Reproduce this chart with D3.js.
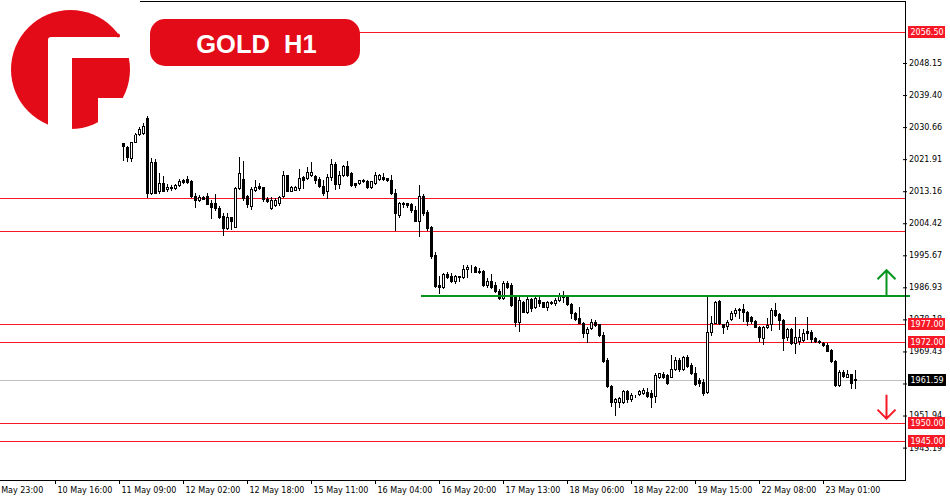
<!DOCTYPE html>
<html><head><meta charset="utf-8">
<script src="https://cdn.jsdelivr.net/npm/d3@7"></script>
<style>body{margin:0;background:#fff}svg{display:block}</style>
</head><body>
<svg id="c" width="950" height="500"></svg>
<script>
// ---- data (H1 candles, 11 May 10:00 onward) ----
const open  = [2026.2,2025.3,2022.2,2026.7,2028.8,2029.1,2033.1,2012.6,2021.1,2013.3,2015.3,2013.7,2014.2,2014.0,2014.8,2016.2,2016.5,2015.9,2011.9,2010.8,2011.6,2011.9,2010.0,2010.0,2008.5,2006.4,2003.1,2006.1,2003.5,2014.0,2016.5,2011.9,2009.1,2013.5,2014.6,2014.2,2011.0,2008.5,2009.3,2009.9,2011.9,2017.6,2013.3,2013.5,2014.0,2017.0,2016.7,2017.6,2017.3,2016.5,2014.6,2013.1,2017.0,2020.6,2015.1,2017.6,2020.1,2018.2,2015.3,2015.3,2016.2,2015.9,2014.2,2015.5,2016.6,2017.0,2016.8,2016.1,2012.8,2006.7,2010.0,2009.9,2009.6,2007.9,2005.1,2011.9,2007.6,2003.3,1995.8,1987.6,1986.9,1990.6,1990.0,1988.7,1989.7,1989.7,1991.8,1992.4,1992.6,1991.5,1991.5,1987.6,1988.7,1987.6,1986.0,1983.9,1988.2,1987.6,1984.6,1977.6,1983.0,1980.3,1983.7,1981.5,1983.5,1982.9,1981.5,1983.0,1982.7,1983.5,1984.4,1984.2,1982.4,1980.0,1978.5,1977.1,1974.4,1975.8,1977.6,1976.9,1973.9,1967.1,1960.0,1955.5,1955.7,1955.7,1958.7,1956.4,1957.4,1957.8,1958.2,1958.4,1958.0,1957.3,1962.5,1963.3,1963.0,1962.5,1964.6,1967.1,1964.6,1967.8,1965.7,1963.6,1961.6,1961.2,1958.4,1974.8,1977.3,1983.3,1976.9,1976.4,1978.2,1979.8,1980.9,1980.9,1980.3,1978.9,1977.8,1976.2,1973.0,1976.0,1976.9,1980.7,1979.7,1978.0,1973.3,1975.5,1971.7,1972.4,1972.6,1975.1,1974.8,1973.0,1972.4,1971.8,1971.2,1969.8,1966.9,1960.3,1963.9,1962.5,1963.3,1961.9];
const high  = [2026.3,2025.5,2026.6,2029.0,2030.6,2031.8,2033.7,2022.2,2021.9,2018.1,2017.3,2015.1,2014.8,2015.0,2016.5,2016.6,2017.3,2016.1,2012.6,2012.1,2011.9,2012.6,2010.8,2012.3,2009.1,2007.2,2007.3,2006.2,2014.4,2022.4,2021.5,2012.1,2014.2,2016.2,2015.5,2014.4,2011.7,2011.7,2011.2,2011.9,2018.8,2017.7,2014.6,2014.6,2019.2,2017.2,2019.9,2021.0,2017.6,2017.0,2016.2,2017.9,2021.9,2021.2,2018.8,2020.3,2021.5,2018.3,2015.5,2016.2,2016.5,2016.2,2016.0,2018.3,2017.9,2018.1,2016.9,2017.5,2013.7,2010.3,2010.3,2010.0,2009.9,2009.1,2014.9,2012.4,2008.0,2003.7,1996.7,1990.0,1990.9,1991.2,1990.9,1990.3,1990.0,1993.0,1993.0,1993.0,1992.8,1992.1,1991.7,1989.4,1990.6,1988.5,1986.4,1988.7,1988.7,1988.0,1984.8,1984.4,1983.3,1984.2,1983.9,1984.4,1984.2,1983.0,1983.3,1983.2,1983.9,1985.5,1986.0,1984.6,1982.6,1980.2,1981.5,1977.6,1976.2,1978.2,1978.0,1977.0,1974.8,1967.6,1960.3,1956.6,1957.1,1958.9,1958.9,1958.0,1957.5,1958.9,1959.4,1959.4,1958.9,1963.5,1963.6,1963.9,1963.3,1968.5,1967.8,1967.6,1968.2,1968.5,1966.2,1965.1,1962.1,1961.8,1984.8,1979.1,1983.3,1983.5,1977.0,1977.9,1980.6,1981.2,1981.2,1982.4,1980.6,1979.1,1978.0,1976.4,1976.4,1978.5,1981.2,1982.6,1979.8,1978.2,1975.8,1975.8,1978.8,1975.5,1975.5,1978.8,1975.3,1973.3,1972.6,1972.1,1971.8,1970.0,1967.1,1964.4,1964.4,1964.4,1963.3,1964.5];
const low   = [2021.7,2021.5,2021.5,2026.5,2028.6,2028.8,2011.5,2012.4,2012.6,2012.8,2013.2,2013.3,2013.5,2013.9,2014.6,2015.3,2015.3,2011.5,2008.8,2010.6,2011.0,2009.6,2005.8,2008.0,2005.8,2001.2,2002.8,2002.8,2003.3,2013.7,2010.8,2008.9,2008.2,2013.3,2013.7,2010.6,2010.3,2008.2,2009.1,2009.3,2011.7,2013.2,2013.2,2013.4,2013.5,2014.0,2016.5,2017.3,2015.5,2014.2,2012.1,2011.2,2016.2,2013.7,2014.0,2017.3,2017.3,2014.6,2014.4,2015.1,2015.8,2014.1,2014.1,2015.1,2016.2,2016.2,2016.0,2012.4,2002.6,2006.1,2008.9,2008.9,2007.6,2004.9,2000.9,2006.7,2002.6,1994.9,1987.1,1985.3,1986.7,1989.5,1988.4,1988.0,1988.7,1989.5,1989.8,1991.2,1991.1,1990.9,1987.4,1986.9,1986.7,1985.7,1983.8,1983.7,1986.7,1981.8,1976.4,1975.1,1980.1,1979.8,1980.6,1981.2,1981.8,1981.5,1980.7,1982.3,1982.1,1983.3,1983.0,1982.1,1978.5,1978.0,1977.1,1973.5,1972.1,1975.5,1976.4,1973.7,1966.6,1959.8,1954.6,1952.1,1954.3,1955.3,1955.5,1956.0,1957.1,1957.6,1957.8,1956.9,1954.2,1955.7,1962.1,1962.1,1960.5,1962.4,1964.4,1964.2,1964.4,1965.1,1963.3,1960.3,1960.0,1957.5,1958.0,1973.9,1977.1,1976.9,1974.4,1975.5,1978.0,1979.1,1978.6,1977.8,1976.6,1977.1,1976.0,1972.4,1971.5,1975.7,1975.3,1979.1,1975.5,1969.8,1972.6,1971.5,1968.9,1971.5,1972.4,1972.7,1972.1,1972.1,1971.8,1970.9,1969.5,1966.6,1960.0,1960.0,1962.5,1962.4,1959.4,1959.4];
const close = [2025.5,2022.4,2026.5,2028.8,2030.1,2031.0,2012.8,2021.1,2012.8,2015.5,2013.3,2014.4,2014.0,2014.8,2015.9,2015.7,2015.7,2011.9,2010.8,2011.5,2011.1,2009.8,2008.9,2008.5,2006.2,2003.1,2006.1,2004.9,2014.0,2018.1,2011.2,2009.6,2013.7,2014.2,2014.0,2011.0,2010.6,2010.8,2010.8,2011.7,2017.6,2013.3,2014.2,2014.2,2016.7,2016.2,2018.5,2018.5,2016.1,2014.6,2012.6,2017.0,2020.6,2015.1,2017.6,2020.1,2017.6,2014.9,2014.8,2016.1,2015.9,2014.2,2015.9,2017.6,2017.5,2016.5,2016.1,2012.8,2007.2,2010.0,2009.7,2009.3,2007.9,2005.1,2011.9,2007.3,2003.1,1995.5,1987.3,1986.9,1990.6,1989.7,1988.7,1990.0,1990.0,1991.9,1992.6,1992.6,1991.2,1991.2,1987.6,1988.7,1986.9,1986.0,1983.9,1988.0,1987.1,1982.1,1977.6,1983.5,1980.3,1983.7,1981.2,1983.9,1982.7,1981.6,1983.0,1982.6,1983.5,1984.8,1984.9,1982.4,1979.8,1978.2,1977.3,1974.4,1975.5,1977.6,1976.6,1973.9,1966.9,1960.0,1955.5,1956.4,1956.6,1958.7,1956.4,1957.6,1957.2,1958.7,1958.9,1957.3,1956.9,1963.0,1963.5,1962.5,1960.9,1964.6,1967.1,1964.6,1967.8,1965.5,1963.6,1960.5,1960.9,1958.2,1974.8,1977.3,1983.0,1977.1,1976.0,1977.6,1980.0,1980.7,1980.7,1980.3,1977.8,1977.8,1976.2,1973.3,1976.0,1976.6,1980.7,1979.4,1978.0,1973.0,1975.5,1971.7,1973.3,1973.5,1974.5,1974.4,1972.7,1972.4,1972.1,1971.2,1969.6,1966.9,1960.3,1963.9,1962.7,1963.3,1960.7,1961.59];

const timeTickBars   = [-33,-17,-1,15,31,47,63,79,95,111,127,143,159,175];
const timeTickLabels = ["9 May 23:00","10 May 16:00","11 May 09:00","12 May 02:00","12 May 18:00","15 May 11:00","16 May 04:00","16 May 20:00","17 May 13:00","18 May 06:00","18 May 22:00","19 May 15:00","22 May 08:00","23 May 01:00"];
const priceTicks   = [2048.15,2039.40,2030.66,2021.91,2013.16,2004.42,1995.67,1986.93,1978.18,1969.43,1960.69,1951.94,1943.19];
const labeledLevels = [2056.50,1977.00,1972.00,1950.00,1945.00];
const plainLevels   = [2011.3,2002.3];
const currentPrice  = 1961.59;
const resistance    = 1984.5;
const title = "GOLD  H1";

// ---- drawing ----
const RED = "#f71826", LOGO = "#e30b18", GREEN = "#07951f";
const svg = d3.select("#c");
const n = open.length;
const x = d3.scaleLinear().domain([0, n - 1]).range([123, 855]);
const y = d3.scaleLinear().domain([1943.19, 2048.15]).range([447.6, 63]);
const py = v => Math.round(y(v)) + 0.5;
const axisX = 905, axisY = 480;

svg.append("rect").attr("width", 950).attr("height", 500).attr("fill", "#fff");

// horizontal levels
svg.selectAll(".pl").data(plainLevels).join("line")
  .attr("x1", 0).attr("x2", axisX).attr("y1", py).attr("y2", py)
  .attr("stroke", RED).attr("stroke-width", 1);
svg.selectAll(".ll").data(labeledLevels).join("line")
  .attr("x1", (d, i) => i === 0 ? 355 : 0).attr("x2", axisX).attr("y1", py).attr("y2", py)
  .attr("stroke", RED).attr("stroke-width", 1);
svg.append("line").attr("x1", 0).attr("x2", axisX)
  .attr("y1", py(currentPrice)).attr("y2", py(currentPrice))
  .attr("stroke", "#c0c0c0").attr("stroke-width", 1);

// candles
const idx = d3.range(n);
const g = svg.append("g").attr("shape-rendering", "crispEdges");
g.selectAll(".w").data(idx).join("line")
  .attr("x1", i => Math.round(x(i)) + 0.5).attr("x2", i => Math.round(x(i)) + 0.5)
  .attr("y1", i => Math.round(y(high[i]))).attr("y2", i => Math.round(y(low[i])) + 1)
  .attr("stroke", "#000").attr("stroke-width", 1);
g.selectAll(".b").data(idx).join("rect")
  .attr("x", i => Math.round(x(i)) - 0.5)
  .attr("y", i => Math.round(y(Math.max(open[i], close[i]))) + 0.5)
  .attr("width", 2)
  .attr("height", i => Math.max(0, Math.round(y(Math.min(open[i], close[i]))) - Math.round(y(Math.max(open[i], close[i])))))
  .attr("fill", i => close[i] >= open[i] ? "#fff" : "#000")
  .attr("stroke", "#000").attr("stroke-width", 1);

// resistance line + arrows
svg.append("line").attr("x1", 421).attr("x2", 910)
  .attr("y1", Math.round(y(resistance))).attr("y2", Math.round(y(resistance)))
  .attr("stroke", GREEN).attr("stroke-width", 2);
const ay = y(resistance);
svg.append("path")
  .attr("d", `M886.5,${ay - 1}V${ay - 26}M877.5,${ay - 17}L886.5,${ay - 26}L895.5,${ay - 17}`)
  .attr("fill", "none").attr("stroke", GREEN).attr("stroke-width", 2);
const by = y(1950);
svg.append("path")
  .attr("d", `M886.5,${by - 28}V${by - 4}M877.5,${by - 13}L886.5,${by - 4}L895.5,${by - 13}`)
  .attr("fill", "none").attr("stroke", RED).attr("stroke-width", 2);

// frame
svg.append("line").attr("x1", 140).attr("x2", axisX + 0.5).attr("y1", 1.5).attr("y2", 1.5).attr("stroke", "#000");
svg.append("line").attr("x1", axisX + 0.5).attr("x2", axisX + 0.5).attr("y1", 1).attr("y2", axisY + 1).attr("stroke", "#000");
svg.append("line").attr("x1", 0).attr("x2", axisX + 1).attr("y1", axisY + 0.5).attr("y2", axisY + 0.5).attr("stroke", "#000");

// bottom axis
const xa = svg.append("g").attr("transform", `translate(0,${axisY})`)
  .call(d3.axisBottom(x).tickValues(timeTickBars).tickSize(4).tickFormat((d, i) => timeTickLabels[i]));
xa.select(".domain").remove();
xa.selectAll("text").attr("text-anchor", "start").attr("x", 2).attr("y", 7)
  .attr("font-family", "DejaVu Sans").attr("font-size", 8).attr("fill", "#000");

// right axis
const ya = svg.append("g").attr("transform", `translate(${axisX - 2},0)`)
  .call(d3.axisRight(y).tickValues(priceTicks).tickSize(4)
    .tickFormat(d => Math.abs(y(d) - y(currentPrice)) < 7 ? "" : d3.format(".2f")(d)));
ya.select(".domain").remove();
ya.selectAll("text").attr("x", 6).attr("dy", "0.3em")
  .attr("font-family", "DejaVu Sans").attr("font-size", 8).attr("fill", "#000");

// price labels
const lab = svg.selectAll(".lab").data(labeledLevels).join("g")
  .attr("transform", d => `translate(908,${Math.round(y(d))})`);
lab.append("rect").attr("x", 0).attr("y", -6).attr("width", 37).attr("height", 12).attr("fill", RED);
lab.append("text").attr("x", 2.5).attr("y", 0).attr("dy", "0.33em")
  .attr("font-family", "DejaVu Sans").attr("font-size", 8).attr("fill", "#fff")
  .text(d => d3.format(".2f")(d));
const cur = svg.append("g").attr("transform", `translate(908,${Math.round(y(currentPrice))})`);
cur.append("rect").attr("x", 0).attr("y", -6).attr("width", 38).attr("height", 12).attr("fill", "#000");
cur.append("text").attr("x", 2.5).attr("dy", "0.33em")
  .attr("font-family", "DejaVu Sans").attr("font-size", 8).attr("fill", "#fff")
  .text(d3.format(".2f")(currentPrice));

// title pill
svg.append("rect").attr("x", 150).attr("y", 19).attr("width", 210).attr("height", 47)
  .attr("rx", 15).attr("fill", LOGO);
svg.append("text").attr("x", 256.5).attr("y", 53.3).attr("text-anchor", "middle")
  .attr("font-family", "Liberation Sans, Arial, sans-serif").attr("font-weight", "bold")
  .attr("font-size", 25.5).attr("fill", "#fff")
  .style("white-space", "pre").text(title);

// logo: red disc with a white "F" cut into it
const lg = svg.append("g");
lg.append("circle").attr("cx", 70.5).attr("cy", 69.5).attr("r", 59.5).attr("fill", LOGO);
lg.append("path").attr("fill", "#fff")
  .attr("d", "M48,40Q48,37 51,37H118Q121,37 121,34L135,34V58H72V131H48Z");
lg.append("path").attr("fill", "#fff")
  .attr("d", "M98,98H135V135H98Z");
lg.append("circle").attr("cx", 118).attr("cy", 35.5).attr("r", 2).attr("fill", LOGO);
</script>
</body></html>
